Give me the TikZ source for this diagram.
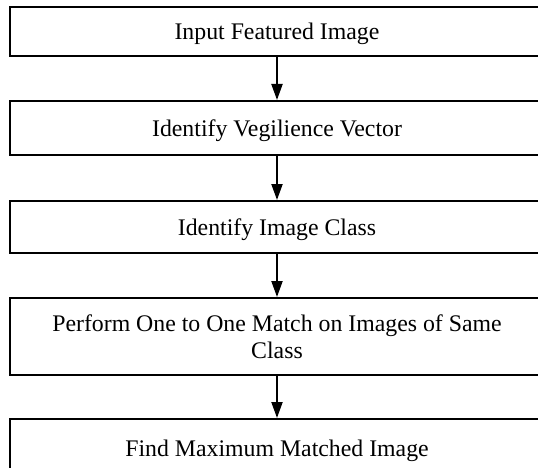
\documentclass[tikz,border=0pt]{standalone}
\usepackage{fontspec}
\setmainfont{Liberation Serif}
\usetikzlibrary{arrows.meta}
\begin{document}
\begin{tikzpicture}[x=1pt,y=-1pt,
  stepbox/.style={draw=black, line width=2pt, minimum width=534pt, inner sep=0pt,
    font=\fontsize{23.8}{26.7}\selectfont, text height=16pt, text depth=0pt, align=center},
  flow/.style={line width=2pt, -{Triangle[width=11pt,length=16pt]}}]
\useasboundingbox (0,0) rectangle (538,468);
\clip (0,0) rectangle (538,468);
\node[stepbox, minimum height=49pt] (s1) at (277,31.5) {Input Featured Image};
\node[stepbox, minimum height=54pt] (s2) at (277,128) {Identify Vegilience Vector};
\node[stepbox, minimum height=52pt] (s3) at (277,227) {Identify Image Class};
\node[stepbox, minimum height=77pt, text height=, text depth=] (s4) at (277,336.5)
  {Perform One to One Match on Images of Same\\Class};
\node[stepbox, minimum height=58pt] (s5) at (277,448) {Find Maximum Matched Image};
\draw[flow] (s1) -- (s2);
\draw[flow] (s2) -- (s3);
\draw[flow] (s3) -- (s4);
\draw[flow] (s4) -- (s5);
\end{tikzpicture}
\end{document}
